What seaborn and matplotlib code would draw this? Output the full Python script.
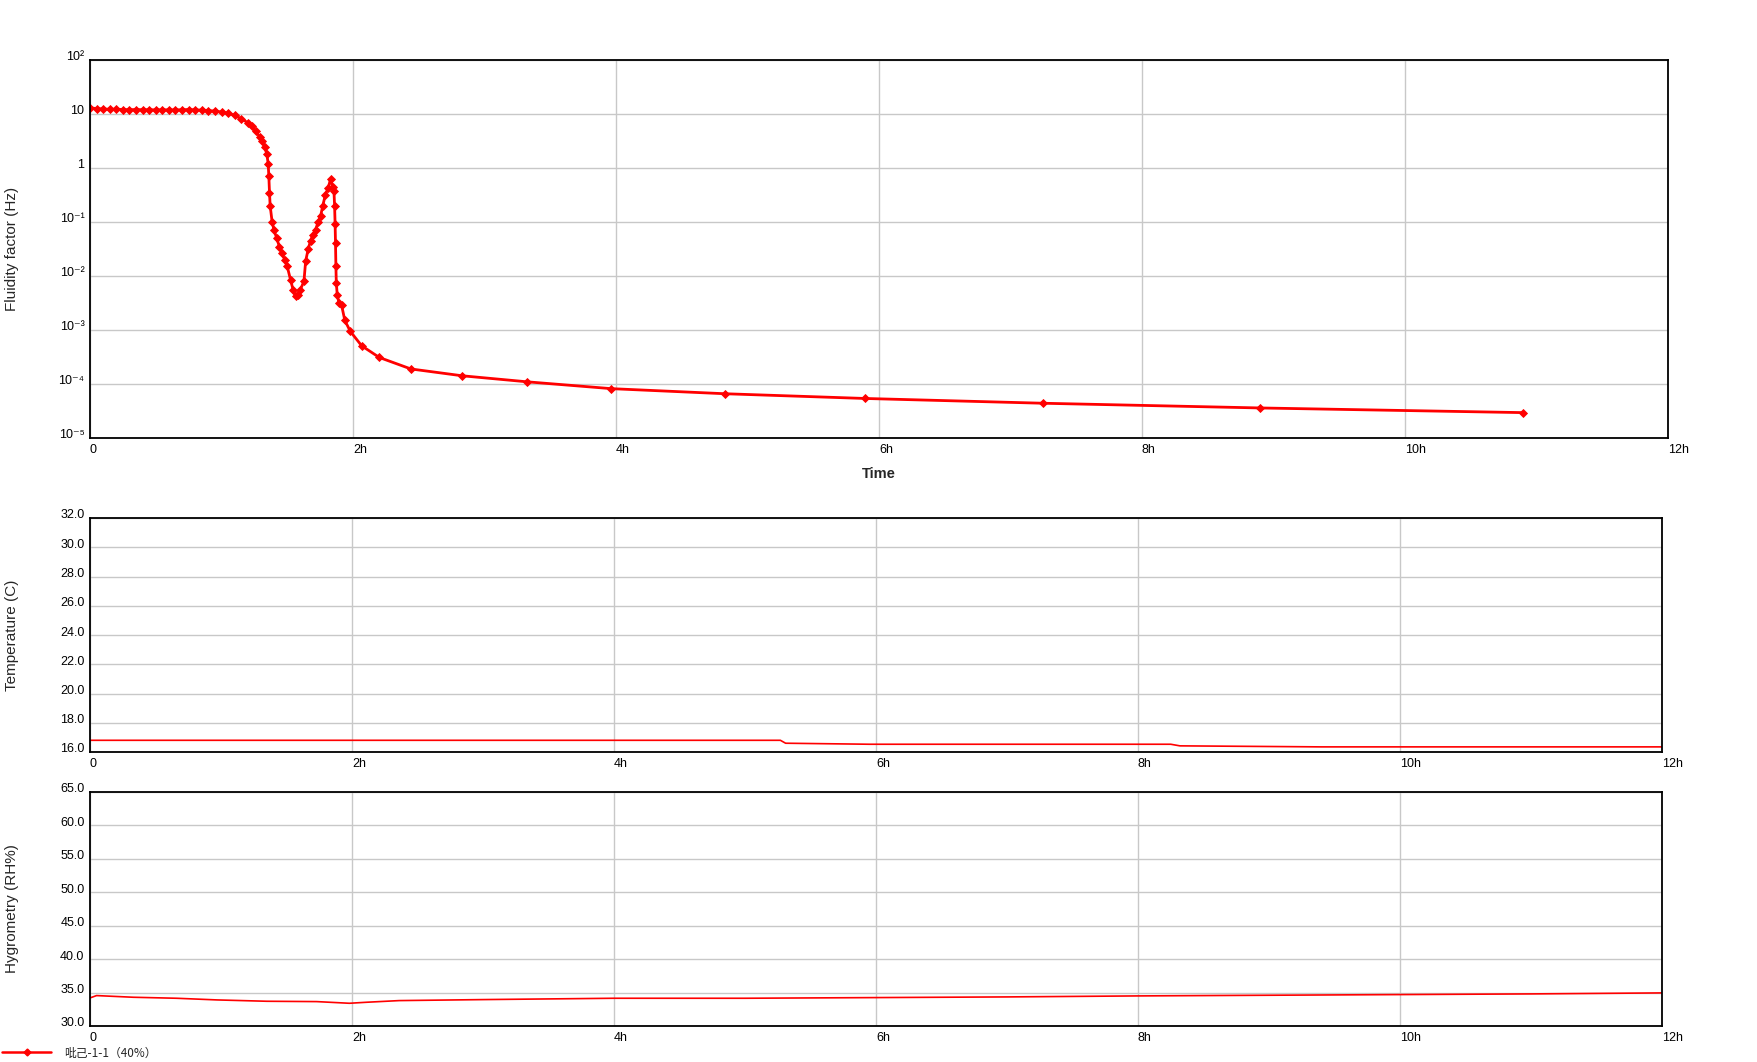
import numpy as np
import pandas as pd
import matplotlib
matplotlib.use('Agg')
import matplotlib.pyplot as plt
import matplotlib.transforms as mtransforms
from matplotlib.lines import Line2D
from matplotlib.ticker import NullLocator
import seaborn as sns

# ── Style ────────────────────────────────────────────────
sns.set_style('white')
plt.rcParams['font.family'] = ['Liberation Sans', 'DejaVu Sans']
RED = '#ff0000'
GRID = '#c8c8c8'
CJK = ['Noto Sans CJK SC', 'DejaVu Sans']

# ── Data ─────────────────────────────────────────────────
# fluidity factor (Hz) vs time (h)
flu_t = [0.00, 0.05, 0.10, 0.15, 0.20, 0.25, 0.30, 0.35, 0.40, 0.45, 0.50,
         0.55, 0.60, 0.65, 0.70, 0.75, 0.80, 0.85, 0.90, 0.95, 1.00, 1.05,
         1.10, 1.15, 1.20, 1.23, 1.26, 1.29, 1.31, 1.33, 1.345, 1.355, 1.36,
         1.365, 1.37, 1.385, 1.40, 1.42, 1.44, 1.46, 1.48, 1.50, 1.525,
         1.545, 1.563, 1.58, 1.60, 1.627, 1.64, 1.66, 1.677, 1.695, 1.715,
         1.735, 1.754, 1.77, 1.79, 1.81, 1.83, 1.845, 1.855, 1.86, 1.864,
         1.867, 1.870, 1.873, 1.88, 1.893, 1.913, 1.938, 1.98, 2.066, 2.20,
         2.44, 2.83, 3.32, 3.965, 4.83, 5.89, 7.25, 8.90, 10.90]
flu_v = [13.0, 12.6, 12.4, 12.2, 12.3, 12.1, 12.0, 12.1, 12.0, 12.0, 11.9,
         12.0, 11.9, 11.9, 12.0, 12.1, 11.9, 11.8, 11.6, 11.3, 10.9, 10.3,
         9.4, 8.2, 6.9, 5.9, 4.8, 3.8, 3.1, 2.4, 1.8, 1.2, 0.7,
         0.35, 0.2, 0.1, 0.07, 0.05, 0.035, 0.027, 0.02, 0.015, 0.0085,
         0.0055, 0.0042, 0.0045, 0.0056, 0.008, 0.019, 0.032, 0.045, 0.058, 0.072,
         0.10, 0.13, 0.2, 0.32, 0.42, 0.63, 0.45, 0.38, 0.2, 0.09,
         0.04, 0.015, 0.0075, 0.0045, 0.0032, 0.0029, 0.0015, 0.00094, 0.00051, 0.00031,
         0.00019, 0.000142, 0.000110, 0.000082, 0.000066, 0.000054, 0.000044, 0.000036, 0.0000295]

# temperature (C)
temp_t = [0, 5.27, 5.31, 5.95, 8.25, 8.32, 9.40, 12.0]
temp_v = [16.8, 16.8, 16.6, 16.53, 16.53, 16.42, 16.35, 16.35]

# hygrometry (RH%)
hyg_t = [0, 0.05, 0.33, 0.66, 0.97, 1.35, 1.73, 1.98, 2.11, 2.36, 3.0, 4.0,
         5.0, 6.0, 7.0, 8.0, 9.0, 10.0, 11.0, 12.0]
hyg_v = [34.2, 34.55, 34.3, 34.15, 33.9, 33.7, 33.65, 33.4, 33.55, 33.8, 33.95, 34.15,
         34.15, 34.25, 34.35, 34.5, 34.6, 34.7, 34.8, 34.95]

x_ticks = [0, 2, 4, 6, 8, 10, 12]
x_labels = ['0', '2h', '4h', '6h', '8h', '10h', '12h']
flu_ticks = [1e-5, 1e-4, 1e-3, 1e-2, 1e-1, 1, 10, 100]
flu_labels = ['10⁻⁵', '10⁻⁴', '10⁻³', '10⁻²', '10⁻¹', '1', '10', '10²']
temp_ticks = [16, 18, 20, 22, 24, 26, 28, 30, 32]
hyg_ticks = [30, 35, 40, 45, 50, 55, 60, 65]
legend_label = '吡己-1-1（40%）'

flu = pd.DataFrame({'t': flu_t, 'v': flu_v})
temp = pd.DataFrame({'t': temp_t, 'v': temp_v})
hyg = pd.DataFrame({'t': hyg_t, 'v': hyg_v})

# ── Figure ────────────────────────────────────────────────
W, H = 1757, 1062
fig = plt.figure(figsize=(W / 100, H / 100), dpi=100, facecolor='white')
ax1 = fig.add_axes([90 / W, 1 - 438 / H, 1578 / W, 378 / H])
ax2 = fig.add_axes([90 / W, 1 - 752 / H, 1572 / W, 234 / H])
ax3 = fig.add_axes([90 / W, 1 - 1026 / H, 1572 / W, 234 / H])

sns.lineplot(data=flu, x='t', y='v', ax=ax1, color=RED, lw=2.0, marker='D',
             markersize=4, markeredgewidth=0.6, markeredgecolor=RED,
             estimator=None, sort=False, legend=False)
sns.lineplot(data=temp, x='t', y='v', ax=ax2, color=RED, lw=1.2,
             estimator=None, sort=False, legend=False)
sns.lineplot(data=hyg, x='t', y='v', ax=ax3, color=RED, lw=1.2,
             estimator=None, sort=False, legend=False)

ax1.set_yscale('log')
ax1.set_ylim(1e-5, 1e2)
ax1.set_yticks(flu_ticks)
ax1.set_yticklabels(flu_labels)
ax1.yaxis.set_minor_locator(NullLocator())

ax2.set_ylim(16, 32)
ax2.set_yticks(temp_ticks)
ax2.set_yticklabels([f'{v:.1f}' for v in temp_ticks])

ax3.set_ylim(30, 65)
ax3.set_yticks(hyg_ticks)
ax3.set_yticklabels([f'{v:.1f}' for v in hyg_ticks])

up = mtransforms.ScaledTranslation(0, 4 / 100, fig.dpi_scale_trans)
for ax in [ax1, ax2, ax3]:
    ax.set_xlim(0, 12)
    ax.set_xticks(x_ticks)
    ax.set_xticklabels(x_labels)
    ax.set_facecolor('white')
    ax.grid(True, color=GRID, lw=1)
    ax.set_axisbelow(True)
    for s in ax.spines.values():
        s.set_color('black')
        s.set_linewidth(1.3)
        s.set_visible(True)
    ax.tick_params(length=0, labelsize=9, colors='black')
    ax.tick_params(axis='y', pad=4)
    ax.tick_params(axis='x', pad=4)
    for lbl in ax.get_xticklabels():
        lbl.set_ha('left')
    for lbl in ax.get_yticklabels():
        lbl.set_transform(lbl.get_transform() + up)
    ax.set_xlabel('')

ax1.set_xlabel('Time', fontsize=10.5, fontweight='bold')
ax1.xaxis.set_label_coords(0.5, -(467 - 438) / 378)

ax1.set_ylabel('Fluidity factor (Hz)', fontsize=11)
ax2.set_ylabel('Temperature (C)', fontsize=11)
ax3.set_ylabel('Hygrometry (RH%)', fontsize=11)
ax1.yaxis.set_label_coords(-(90 - 19) / 1578, 0.5)
ax2.yaxis.set_label_coords(-(90 - 19) / 1572, 0.5)
ax3.yaxis.set_label_coords(-(90 - 19) / 1572, 0.5)

handle = Line2D([], [], color=RED, lw=1.8, marker='D', markersize=3.5)
fig.legend(handles=[handle], labels=[legend_label], loc='center left',
           bbox_to_anchor=(0, 1 - 1053 / H), frameon=False,
           handlelength=4.1, handletextpad=1.1, borderpad=0.2,
           borderaxespad=0.0, prop={'family': CJK, 'size': 8.5})

plt.savefig('out.png', dpi=100, facecolor='white')
plt.close()
